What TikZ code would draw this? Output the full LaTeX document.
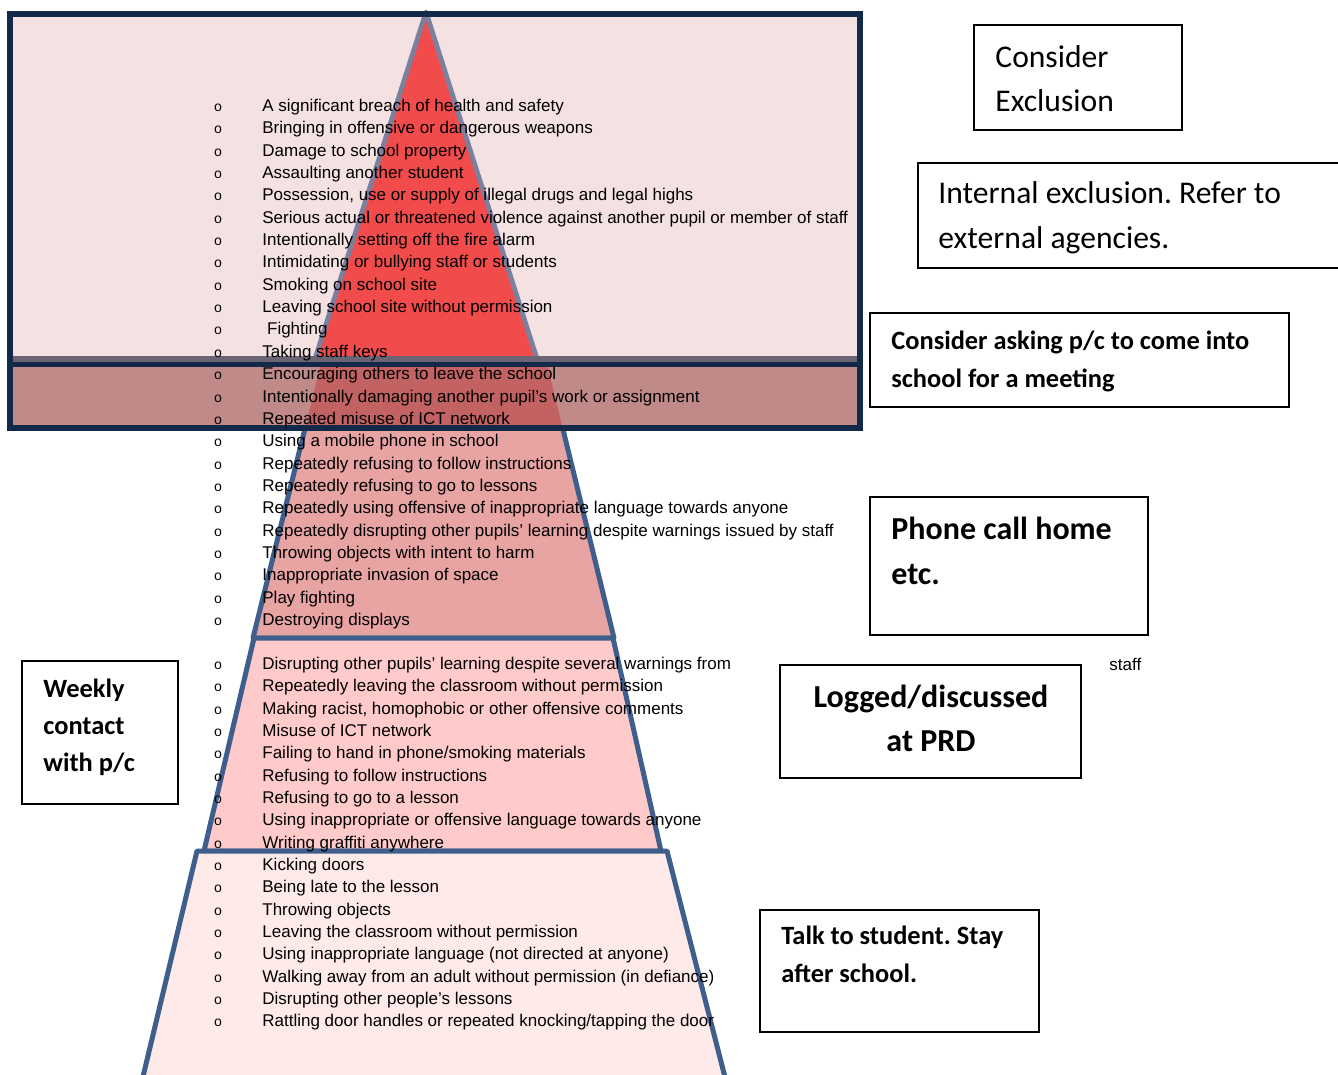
\documentclass[tikz,border=0pt]{standalone}
\usepackage{fontspec}
\setmainfont{Liberation Sans}
\newfontfamily\boxfont{Carlito}
\newfontfamily\bulletfont{Liberation Mono}
\usepackage{xcolor}
\frenchspacing

\definecolor{framenavy}{HTML}{13294A}
\definecolor{toppink}{HTML}{F3E2E1}
\definecolor{bandgrey}{HTML}{6A6474}
\definecolor{bandrose}{HTML}{C08A88}
\definecolor{bandred}{HTML}{C26262}
\definecolor{tipred}{HTML}{F24B4B}
\definecolor{tipedge}{HTML}{7D7F9F}
\definecolor{layerblue}{HTML}{3E5E8C}
\definecolor{midrose}{HTML}{E8A3A3}
\definecolor{lowpink}{HTML}{FFCACA}
\definecolor{basepink}{HTML}{FFEAEA}

\begin{document}
\begin{tikzpicture}[x=0.5pt,y=-0.5pt]
\useasboundingbox (0,0) rectangle (1338,1075);
\clip (0,0) rectangle (1338,1075);

\tikzstyle{layer}=[draw=layerblue,line width=2.5pt,line join=round]
\tikzstyle{item}=[anchor=base west,inner sep=0pt,font=\fontsize{8.5}{10}\selectfont]
\tikzstyle{bullet}=[anchor=base,inner sep=0pt,font=\bulletfont\fontsize{7}{8}\selectfont]
\tikzstyle{box}=[draw=black,line width=1pt]
\tikzstyle{plainlabel}=[anchor=base west,inner sep=0pt,font=\boxfont\fontsize{15.8}{18}\selectfont]
\tikzstyle{boldlabel}=[anchor=base west,inner sep=0pt,font=\boxfont\bfseries\fontsize{13.2}{15}\selectfont]
\tikzstyle{biglabel}=[inner sep=0pt,font=\boxfont\bfseries\fontsize{16}{19}\selectfont]

% top frame and red tip
\fill[toppink] (10,14) rectangle (860,364);
\filldraw[fill=tipred,draw=tipedge,line width=2.4pt,line join=round] (426,12) -- (538,362) -- (314,362) -- cycle;

\coordinate (t2a) at (321,364);
\coordinate (t2b) at (547,364);
\coordinate (t2c) at (614,638);
\coordinate (t2d) at (253,638);
\filldraw[layer,fill=midrose] (t2a) -- (t2b) -- (t2c) -- (t2d) -- cycle;

% band across the frame
\fill[bandrose] (10,364) rectangle (860,428);
\begin{scope}
\clip (10,364) rectangle (860,428);
\fill[bandred] (t2a) -- (t2b) -- (t2c) -- (t2d) -- cycle;
\end{scope}
\fill[bandgrey] (10,356) rectangle (860,362);
\draw[framenavy,line width=2.6pt] (10,14) rectangle (860,428);
\draw[framenavy,line width=2.6pt] (10,364.5) -- (860,364.5);

% lower layers
\filldraw[layer,fill=lowpink] (254,638) -- (613,638) -- (661,851) -- (204,851) -- cycle;
\filldraw[layer,fill=basepink] (197,851) -- (667,851) -- (727,1085) -- (141,1085) -- cycle;

% behaviour lists
\foreach \txt [count=\i] in {A significant breach of health and safety,
  Bringing in offensive or dangerous weapons,
  Damage to school property,
  Assaulting another student,
  {Possession, use or supply of illegal drugs and legal highs},
  Serious actual or threatened violence against another pupil or member of staff,
  Intentionally setting off the fire alarm,
  Intimidating or bullying staff or students,
  Smoking on school site,
  Leaving school site without permission,
  \ Fighting,
  Taking staff keys,
  Encouraging others to leave the school,
  Intentionally damaging another pupil’s work or assignment,
  Repeated misuse of ICT network,
  Using a mobile phone in school,
  Repeatedly refusing to follow instructions,
  Repeatedly refusing to go to lessons,
  Repeatedly using offensive of inappropriate language towards anyone,
  Repeatedly disrupting other pupils’ learning despite warnings issued by staff,
  Throwing objects with intent to harm,
  Inappropriate invasion of space,
  Play fighting,
  Destroying displays} {
  \node[bullet] (o\i) at (218,{111.5+22.35*(\i-1)}) {o};
  \node[item] (a\i) at (262,{111.5+22.35*(\i-1)}) {\txt};
}
\foreach \txt [count=\i] in {Disrupting other pupils’ learning despite several warnings from,
  Repeatedly leaving the classroom without permission,
  {Making racist, homophobic or other offensive comments},
  Misuse of ICT network,
  Failing to hand in phone/smoking materials,
  Refusing to follow instructions,
  Refusing to go to a lesson,
  Using inappropriate or offensive language towards anyone,
  Writing graffiti anywhere,
  Kicking doors,
  Being late to the lesson,
  Throwing objects,
  Leaving the classroom without permission,
  Using inappropriate language (not directed at anyone),
  Walking away from an adult without permission (in defiance),
  Disrupting other people’s lessons,
  Rattling door handles or repeated knocking/tapping the door} {
  \node[bullet] (p\i) at (218,{669.5+22.33*(\i-1)}) {o};
  \node[item] (b\i) at (262,{669.5+22.33*(\i-1)}) {\txt};
}
\node[item] (staff) at (1109,670) {staff};

% action boxes
\draw[box] (974,25) rectangle (1182,130);
\node[plainlabel] (excl1) at (995,68) {Consider};
\node[plainlabel] (excl2) at (995,112) {Exclusion};

\draw[box] (918,163) rectangle (1350,268);
\node[plainlabel] (int1) at (938,204) {Internal exclusion. Refer to};
\node[plainlabel] (int2) at (938,249) {external agencies.};

\draw[box] (870,313) rectangle (1289,407);
\node[boldlabel] (meet1) at (891,350) {Consider asking p/c to come into};
\node[boldlabel] (meet2) at (891,387) {school for a meeting};

\draw[box] (870,497) rectangle (1148,635);
\node[biglabel,anchor=base west] (phone1) at (891,539) {Phone call home};
\node[biglabel,anchor=base west] (phone2) at (891,584) {etc.};

\draw[box] (780,665) rectangle (1081,778);
\node[biglabel,anchor=base] (prd1) at (931,707) {Logged/discussed};
\node[biglabel,anchor=base] (prd2) at (931,751) {at PRD};

\draw[box] (22,661) rectangle (178,804);
\node[boldlabel,font=\boxfont\bfseries\fontsize{13.2}{15}\selectfont] (week1) at (43,697) {Weekly};
\node[boldlabel,font=\boxfont\bfseries\fontsize{13.2}{15}\selectfont] (week2) at (43,734) {contact};
\node[boldlabel,font=\boxfont\bfseries\fontsize{13.2}{15}\selectfont] (week3) at (43,771) {with p/c};

\draw[box] (760,910) rectangle (1039,1032);
\node[boldlabel] (talk1) at (781,944) {Talk to student. Stay};
\node[boldlabel] (talk2) at (781,982) {after school.};
\end{tikzpicture}
\end{document}
